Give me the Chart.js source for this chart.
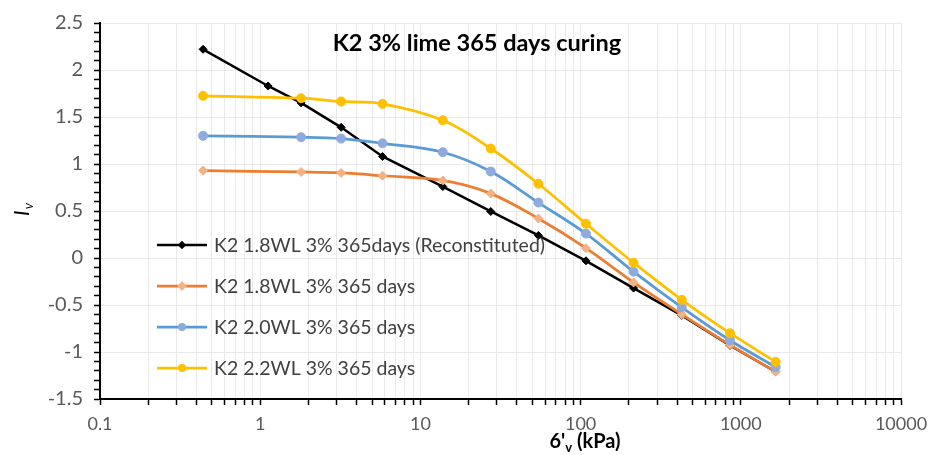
<!DOCTYPE html>
<html>
<head>
<meta charset="utf-8">
<script src="https://cdn.jsdelivr.net/npm/chart.js@4/dist/chart.umd.min.js"></script>
<style>
  html, body { margin: 0; padding: 0; background: #fff; }
  #wrap { width: 931px; height: 455px; }
</style>
</head>
<body>
<div id="wrap"><canvas id="c" width="931" height="455"></canvas></div>
<script>
// Vertical effective stress (kPa) for each loading step
const stressReconstituted = [0.44, 1.12, 1.8, 3.2, 5.8, 13.8, 27.5, 54.5, 108, 214, 428, 856, 1650];
const stressCured = [0.44, 1.8, 3.2, 5.8, 13.8, 27.5, 54.5, 108, 214, 428, 856, 1650];

// Void index Iv for each specimen
const ivReconstituted = [2.22, 1.83, 1.65, 1.39, 1.08, 0.76, 0.495, 0.24, -0.03, -0.32, -0.61, -0.93, -1.21];
const iv18WL = [0.93, 0.915, 0.905, 0.875, 0.825, 0.685, 0.42, 0.105, -0.26, -0.60, -0.925, -1.21];
const iv20WL = [1.30, 1.285, 1.27, 1.22, 1.125, 0.92, 0.59, 0.26, -0.145, -0.525, -0.875, -1.16];
const iv22WL = [1.725, 1.70, 1.665, 1.64, 1.465, 1.165, 0.79, 0.365, -0.05, -0.445, -0.80, -1.105];

const seriesNames = [
  'K2 1.8WL 3% 365days (Reconstituted)',
  'K2 1.8WL 3% 365 days',
  'K2 2.0WL 3% 365 days',
  'K2 2.2WL 3% 365 days'
];

// Axis ranges
const xMin = 0.1, xMax = 10000;
const yMin = -1.5, yMax = 2.5;

const FONT = 'Lato, "Open Sans", sans-serif';

function pairs(xs, ys) { return xs.map((x, i) => ({ x: x, y: ys[i] })); }

const styles = [
  { line: '#000000', point: '#000000', shape: 'rectRot', r: 4, w: 2.5, tension: 0 },
  { line: '#ed7d31', point: '#f4b183', shape: 'rectRot', r: 4.5, w: 2.75, tension: 0.35 },
  { line: '#5b9bd5', point: '#8faadc', shape: 'circle', r: 4.5, w: 2.75, tension: 0.35 },
  { line: '#ffc000', point: '#ffc000', shape: 'circle', r: 4.5, w: 2.75, tension: 0.35 }
];
const dataSets = [
  pairs(stressReconstituted, ivReconstituted),
  pairs(stressCured, iv18WL),
  pairs(stressCured, iv20WL),
  pairs(stressCured, iv22WL)
];

const datasets = dataSets.map((d, i) => ({
  label: seriesNames[i],
  data: d,
  borderColor: styles[i].line,
  backgroundColor: styles[i].point,
  pointBackgroundColor: styles[i].point,
  pointBorderColor: styles[i].point,
  pointStyle: styles[i].shape,
  pointRadius: styles[i].r,
  pointBorderWidth: 1,
  borderWidth: styles[i].w,
  tension: styles[i].tension,
  cubicInterpolationMode: 'default',
  order: 4 - i
}));

function drawMarker(ctx, shape, x, y, r, color) {
  ctx.save();
  ctx.fillStyle = color;
  ctx.beginPath();
  if (shape === 'rectRot') {
    const d = r * 1.2;
    ctx.moveTo(x, y - d); ctx.lineTo(x + d, y); ctx.lineTo(x, y + d); ctx.lineTo(x - d, y);
    ctx.closePath();
  } else {
    ctx.arc(x, y, r, 0, Math.PI * 2);
  }
  ctx.fill();
  ctx.restore();
}

// Title, in-plot legend and axis titles
const annotations = {
  id: 'annotations',
  afterDraw(chart) {
    const ctx = chart.ctx;
    ctx.save();

    // chart title inside the plot area
    ctx.fillStyle = '#000';
    ctx.font = 'bold 23.5px ' + FONT;
    ctx.textAlign = 'center';
    ctx.textBaseline = 'middle';
    ctx.fillText('K2 3% lime 365 days curing', 477, 43);

    // legend
    const rows = [245, 286, 327, 368];
    ctx.font = '19.5px ' + FONT;
    ctx.textAlign = 'left';
    chart.data.datasets.forEach((ds, i) => {
      const y = rows[i];
      ctx.strokeStyle = styles[i].line;
      ctx.lineWidth = styles[i].w;
      ctx.beginPath();
      ctx.moveTo(157, y); ctx.lineTo(207, y);
      ctx.stroke();
      drawMarker(ctx, styles[i].shape, 182, y, styles[i].r - 0.5, styles[i].point);
      ctx.fillStyle = '#404040';
      ctx.fillText(ds.label, 214, y + 1);
    });

    // y axis title: I with subscript v, rotated
    ctx.save();
    ctx.translate(22, 210);
    ctx.rotate(-Math.PI / 2);
    ctx.fillStyle = '#000';
    ctx.textAlign = 'left';
    ctx.textBaseline = 'alphabetic';
    ctx.font = 'italic 21px ' + FONT;
    const wI = ctx.measureText('I').width;
    ctx.font = 'italic 13px ' + FONT;
    const wv = ctx.measureText('v').width;
    const start = -(wI + wv) / 2;
    ctx.font = 'italic 21px ' + FONT;
    ctx.fillText('I', start, 7);
    ctx.font = 'italic 13px ' + FONT;
    ctx.fillText('v', start + wI + 1, 11);
    ctx.restore();

    // x axis title: 6'v (kPa) with subscript v
    ctx.save();
    ctx.fillStyle = '#000';
    ctx.textBaseline = 'alphabetic';
    ctx.textAlign = 'left';
    const big = 'bold 20px ' + FONT, small = 'bold 13px ' + FONT;
    ctx.font = big; const w1 = ctx.measureText("6'").width;
    ctx.font = small; const w2 = ctx.measureText('v').width;
    ctx.font = big; const w3 = ctx.measureText(' (kPa)').width;
    const x0 = 585 - (w1 + w2 + w3) / 2;
    const base = 448;
    ctx.font = big; ctx.fillText("6'", x0, base);
    ctx.font = small; ctx.fillText('v', x0 + w1, base + 4);
    ctx.font = big; ctx.fillText(' (kPa)', x0 + w1 + w2, base);
    ctx.restore();

    ctx.restore();
  }
};

function isMajorY(v) { return Math.abs(v * 2 - Math.round(v * 2)) < 1e-6; }
function isDecade(v) { const l = Math.log10(v); return Math.abs(l - Math.round(l)) < 1e-6; }

new Chart(document.getElementById('c'), {
  type: 'line',
  data: { datasets: datasets },
  options: {
    responsive: false,
    animation: false,
    devicePixelRatio: 1,
    layout: { padding: { top: 20, right: 30, left: 0, bottom: 0 } },
    plugins: { legend: { display: false }, tooltip: { enabled: false }, title: { display: false } },
    scales: {
      x: {
        type: 'logarithmic',
        min: xMin,
        max: xMax,
        afterBuildTicks(scale) {
          const t = [];
          for (let e = -1; e <= 3; e++) {
            for (let m = 1; m <= 9; m++) t.push({ value: m * Math.pow(10, e) });
          }
          t.push({ value: 10000 });
          scale.ticks = t;
        },
        afterFit(scale) {
          scale.height = 56;
          scale.paddingLeft = 0;
          scale.paddingRight = 0;
        },
        border: { display: true, color: '#000', width: 2 },
        grid: {
          color: '#e9e9e9',
          lineWidth: 1,
          drawTicks: true,
          tickLength: 6,
          tickColor: '#000',
          tickWidth: 1.5
        },
        ticks: {
          autoSkip: false,
          maxRotation: 0,
          padding: 8,
          color: '#595959',
          font: { family: FONT, size: 18 },
          callback(value) {
            if (!isDecade(value)) return '';
            return value < 1 ? value.toFixed(1) : String(Math.round(value));
          }
        }
      },
      y: {
        type: 'linear',
        min: yMin,
        max: yMax,
        afterBuildTicks(scale) {
          const t = [];
          for (let k = 0; k <= 40; k++) t.push({ value: Math.round((yMin + k * 0.1) * 10) / 10 });
          scale.ticks = t;
        },
        afterFit(scale) { scale.width = 100; },
        border: { display: true, color: '#000', width: 2 },
        grid: {
          color: (c) => (c.tick && isMajorY(c.tick.value)) ? '#e9e9e9' : 'rgba(0,0,0,0)',
          lineWidth: 1,
          drawTicks: true,
          tickLength: 6,
          tickColor: '#000',
          tickWidth: 1.5
        },
        ticks: {
          autoSkip: false,
          padding: 11,
          color: '#595959',
          font: { family: FONT, size: 20 },
          callback(value) {
            if (!isMajorY(value)) return '';
            return String(Math.round(value * 10) / 10);
          }
        }
      }
    }
  },
  plugins: [annotations]
});
</script>
</body>
</html>
